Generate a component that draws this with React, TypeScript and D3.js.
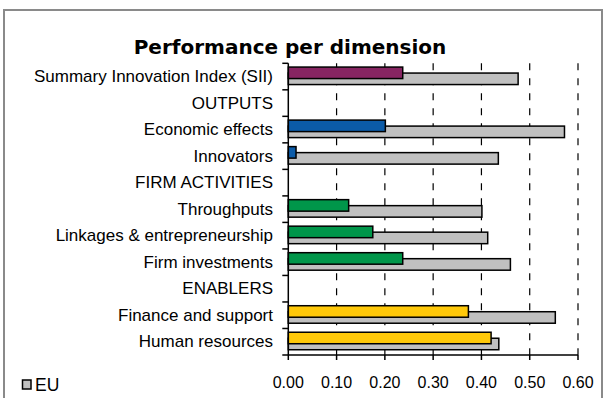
import React from "react";
import * as d3 from "d3";

// rows top to bottom, section headers have no values
const categories = [
  "Summary Innovation Index (SII)",
  "OUTPUTS",
  "Economic effects",
  "Innovators",
  "FIRM ACTIVITIES",
  "Throughputs",
  "Linkages & entrepreneurship",
  "Firm investments",
  "ENABLERS",
  "Finance and support",
  "Human resources",
];
const groups = ["sii", null, "outputs", "outputs", null, "firm", "firm", "firm", null, "enablers", "enablers"];
const countryValues = [0.237, null, 0.201, 0.016, null, 0.125, 0.175, 0.237, null, 0.373, 0.42];
const euValues = [0.476, null, 0.572, 0.435, null, 0.401, 0.413, 0.46, null, 0.553, 0.436];
const xTicks = [0, 0.1, 0.2, 0.3, 0.4, 0.5, 0.6];

const groupColor: Record<string, string> = {
  sii: "#872562",
  outputs: "#0b5ba8",
  firm: "#00964a",
  enablers: "#ffc90a",
};
const euColor = "#c0c0c0";

const W = 605;
const H = 398;
const margin = { top: 63.3, left: 288.3, right: 27, bottom: 43 };

const App = () => {
  const x = d3.scaleLinear().domain([0, 0.6]).range([margin.left, W - margin.right]);
  const y = d3
    .scaleBand<number>()
    .domain(d3.range(categories.length))
    .range([margin.top, H - margin.bottom])
    .padding(0);
  const bw = y.bandwidth();
  const barH = 11.5;
  const top = margin.top;
  const bottom = H - margin.bottom;
  const font = "'Liberation Sans', Arial, sans-serif";

  return (
    <svg width={W} height={H} style={{ position: "absolute", left: 0, top: 0, background: "#fff" }}>
      <rect x={4} y={10} width={598} height={400} fill="#fff" stroke="#8a8a8a" strokeWidth={2} />
      <text
        x={290}
        y={54}
        textAnchor="middle"
        fontFamily="'DejaVu Sans', Verdana, sans-serif"
        fontWeight="bold"
        fontSize={20}
      >
        Performance per dimension
      </text>

      {/* gridlines */}
      {xTicks.slice(1).map((t) => (
        <line
          key={"g" + t}
          x1={x(t)}
          x2={x(t)}
          y1={top}
          y2={bottom}
          stroke="#000"
          strokeWidth={1.2}
          strokeDasharray="7,8"
        />
      ))}

      {/* EU bars */}
      {euValues.map((v, i) =>
        v == null ? null : (
          <rect
            key={"eu" + i}
            x={x(0)}
            y={(y(i) as number) + bw / 2 - 3.5}
            width={x(v) - x(0)}
            height={barH}
            fill={euColor}
            stroke="#000"
            strokeWidth={1.5}
          />
        )
      )}
      {/* country bars */}
      {countryValues.map((v, i) =>
        v == null ? null : (
          <rect
            key={"c" + i}
            x={x(0)}
            y={(y(i) as number) + bw / 2 - 9.5}
            width={x(v) - x(0)}
            height={barH}
            fill={groupColor[groups[i] as string]}
            stroke="#000"
            strokeWidth={1.5}
          />
        )
      )}

      {/* y axis */}
      <line x1={x(0)} x2={x(0)} y1={top} y2={bottom} stroke="#000" strokeWidth={1.5} />
      {d3.range(categories.length + 1).map((i) => {
        const yy = top + i * bw;
        return <line key={"yt" + i} x1={x(0) - 6} x2={x(0)} y1={yy} y2={yy} stroke="#000" strokeWidth={1.5} />;
      })}
      {categories.map((c, i) => (
        <text
          key={"l" + i}
          x={273}
          y={(y(i) as number) + bw / 2 + 5.5}
          textAnchor="end"
          fontFamily={font}
          fontSize={17}
          fill="#000"
        >
          {c}
        </text>
      ))}

      {/* x axis */}
      <line x1={x(0)} x2={x(0.6)} y1={bottom} y2={bottom} stroke="#000" strokeWidth={1.5} />
      {xTicks.map((t) => (
        <g key={"xt" + t}>
          <line x1={x(t)} x2={x(t)} y1={bottom} y2={bottom + 5} stroke="#000" strokeWidth={1.5} />
          <text x={x(t)} y={388} textAnchor="middle" fontFamily={font} fontSize={16} fill="#000">
            {d3.format(".2f")(t)}
          </text>
        </g>
      ))}

      {/* legend */}
      <rect x={22.5} y={380} width={8.5} height={9} fill={euColor} stroke="#000" strokeWidth={1.5} />
      <text x={35} y={390.5} fontFamily={font} fontSize={17.5} fill="#000">
        EU
      </text>
    </svg>
  );
};

export default App;
